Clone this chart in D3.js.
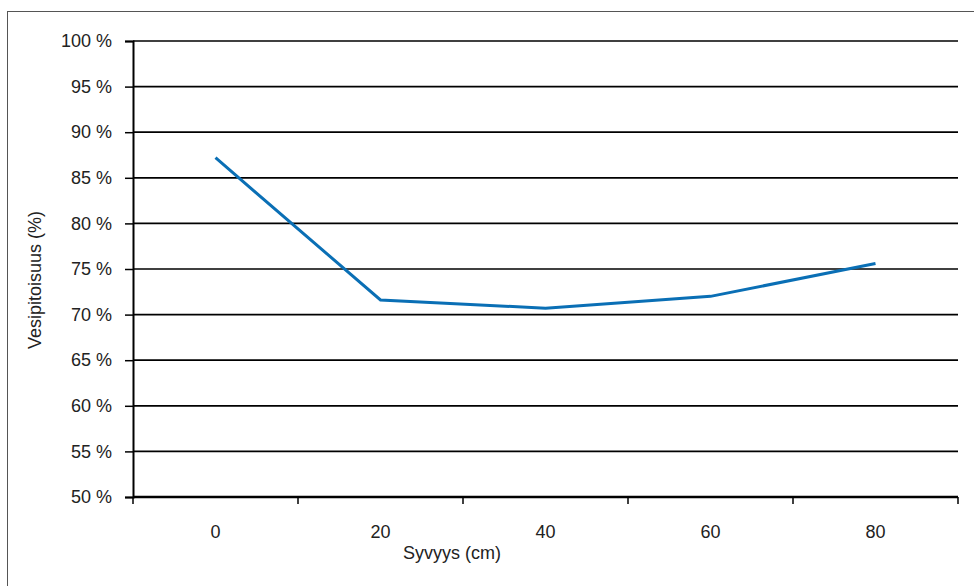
<!DOCTYPE html>
<html>
<head>
<meta charset="utf-8">
<script src="https://cdn.jsdelivr.net/npm/d3@7"></script>
<style>
  body { margin: 0; background: #fff; }
  text { font-family: "Liberation Sans", Arial, sans-serif; fill: #222; }
</style>
</head>
<body>
<svg id="chart" width="974" height="586"></svg>
<script>
// depth categories and water content (%)
const depths = ["0", "20", "40", "60", "80"];
const waterContent = [87.2, 71.6, 70.7, 72.0, 75.6];
const yTicks = [50, 55, 60, 65, 70, 75, 80, 85, 90, 95, 100];

const svg = d3.select("#chart");

// outer frame
svg.append("rect")
  .attr("x", 7.5).attr("y", 11.5)
  .attr("width", 980).attr("height", 600)
  .attr("fill", "none").attr("stroke", "#555").attr("stroke-width", 1);

const plotLeft = 133, plotRight = 958, plotTop = 41, plotBottom = 497;

const x = d3.scaleBand().domain(depths).range([plotLeft, plotRight]);
const y = d3.scaleLinear().domain([50, 100]).range([plotBottom, plotTop]);

// gridlines
svg.append("g")
  .selectAll("line")
  .data(yTicks)
  .enter()
  .append("line")
  .attr("x1", plotLeft).attr("x2", plotRight)
  .attr("y1", d => y(d)).attr("y2", d => y(d))
  .attr("stroke", "#000").attr("stroke-width", 1.7);

// y axis
const yAxis = svg.append("g")
  .attr("transform", `translate(${plotLeft},0)`)
  .call(d3.axisLeft(y).tickValues(yTicks).tickSize(8).tickPadding(13)
    .tickFormat(d => d + " %"));
yAxis.select(".domain").attr("stroke", "#000").attr("stroke-width", 2);
yAxis.selectAll(".tick line").attr("stroke", "#000").attr("stroke-width", 1.5);
yAxis.selectAll("text").style("font-size", "18px").attr("fill", "#222")
  .style("font-family", "'Liberation Sans', Arial, sans-serif");

// x axis, ticks between categories
const xAxis = svg.append("g")
  .attr("transform", `translate(0,${plotBottom})`);
xAxis.append("line")
  .attr("x1", plotLeft).attr("x2", plotRight)
  .attr("stroke", "#000").attr("stroke-width", 2.5);
const edges = depths.map(d => x(d)).concat([x(depths[depths.length - 1]) + x.bandwidth()]);
xAxis.selectAll(".xt")
  .data(edges)
  .enter()
  .append("line")
  .attr("x1", d => d).attr("x2", d => d)
  .attr("y1", 0).attr("y2", 7)
  .attr("stroke", "#000").attr("stroke-width", 1.5);
xAxis.selectAll(".xl")
  .data(depths)
  .enter()
  .append("text")
  .attr("x", d => x(d) + x.bandwidth() / 2)
  .attr("y", 41)
  .attr("text-anchor", "middle")
  .style("font-size", "18px")
  .text(d => d);

// line
const line = d3.line()
  .x((d, i) => x(depths[i]) + x.bandwidth() / 2)
  .y(d => y(d));
svg.append("path")
  .datum(waterContent)
  .attr("d", line)
  .attr("fill", "none")
  .attr("stroke", "#0a6fb5")
  .attr("stroke-width", 3);

// axis titles
svg.append("text")
  .attr("x", 452).attr("y", 559)
  .attr("text-anchor", "middle")
  .style("font-size", "18px")
  .text("Syvyys (cm)");

svg.append("text")
  .attr("transform", "translate(41,280) rotate(-90)")
  .attr("text-anchor", "middle")
  .style("font-size", "18px")
  .text("Vesipitoisuus (%)");
</script>
</body>
</html>
